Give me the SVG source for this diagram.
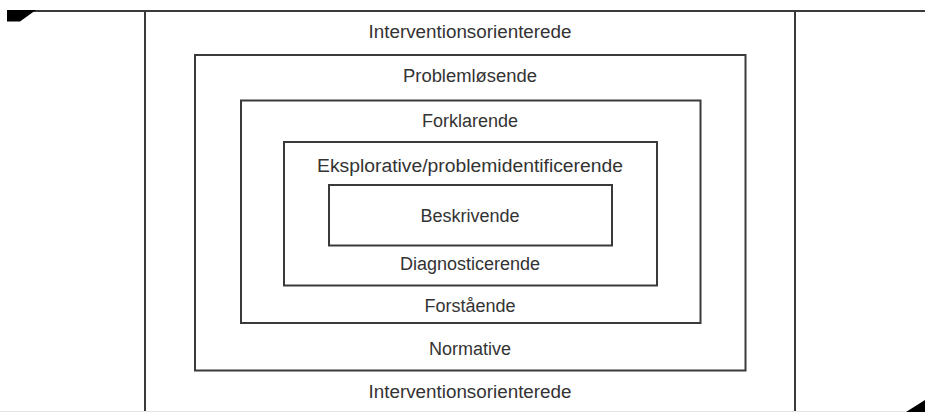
<svg xmlns="http://www.w3.org/2000/svg" width="925" height="412" viewBox="0 0 925 412">
<style>
.box{fill:none;stroke:#3a3a3a;stroke-width:2}
.ln{stroke:#3a3a3a;stroke-width:2;fill:none}
.t{font-family:"Liberation Sans",Arial,sans-serif;font-size:18px;fill:#333;text-anchor:middle}
</style>
<rect width="925" height="412" fill="#fff"/>
<g id="frame">
<line class="ln" x1="7" y1="11" x2="925" y2="11"/>
<line class="ln" x1="145" y1="11" x2="145" y2="412"/>
<line class="ln" x1="795" y1="11" x2="795" y2="412"/>
<line x1="0" y1="411.5" x2="925" y2="411.5" stroke="#e4e4e4" stroke-width="1"/>
<polygon points="7,10 36,10 20,21.5 7,21.5" fill="#000"/>
<polygon points="906,412 925,400 925,412" fill="#000"/>
</g>
<g id="connectors"></g>
<g id="interventionsorienterede">
<text class="t" x="470" y="37.5" textLength="203" lengthAdjust="spacingAndGlyphs">Interventionsorienterede</text>
<text class="t" x="470" y="398" textLength="203" lengthAdjust="spacingAndGlyphs">Interventionsorienterede</text>
</g>
<g id="problemloesende">
<rect class="box" x="195" y="55" width="550.5" height="315.5"/>
<text class="t" x="470" y="82" textLength="134" lengthAdjust="spacingAndGlyphs">Problemløsende</text>
<text class="t" x="470" y="355">Normative</text>
</g>
<g id="forklarende">
<rect class="box" x="241" y="100.5" width="459.5" height="222.5"/>
<text class="t" x="470" y="127">Forklarende</text>
<text class="t" x="470" y="311.5">Forstående</text>
</g>
<g id="eksplorative">
<rect class="box" x="284" y="142" width="373" height="143.5"/>
<text class="t" x="470" y="171.5" textLength="306" lengthAdjust="spacingAndGlyphs">Eksplorative/problemidentificerende</text>
<text class="t" x="470" y="270">Diagnosticerende</text>
</g>
<g id="beskrivende">
<rect class="box" x="329" y="185" width="283" height="60.5"/>
<text class="t" x="470" y="221.5">Beskrivende</text>
</g>
</svg>
